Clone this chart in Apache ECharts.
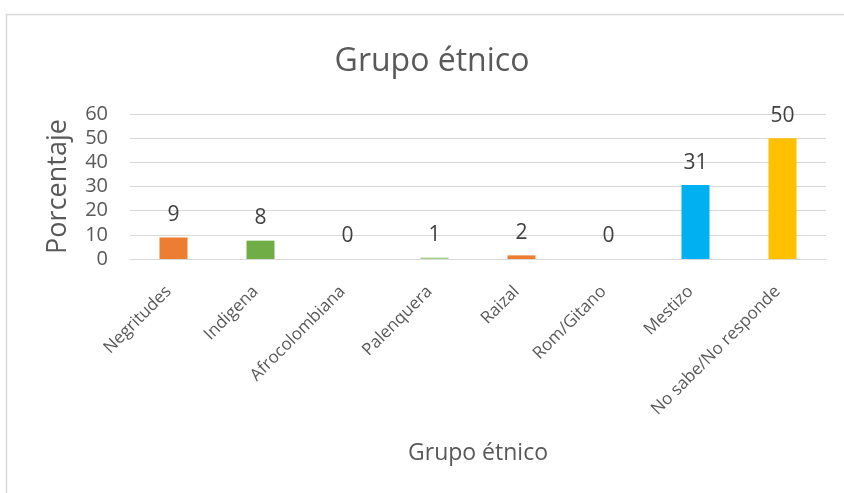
<!DOCTYPE html>
<html>
<head>
<meta charset="utf-8">
<script src="https://cdn.jsdelivr.net/npm/echarts@6/dist/echarts.min.js"></script>
<style>
  html, body { margin: 0; padding: 0; background: #fff; }
  #main { width: 844px; height: 493px; }
</style>
</head>
<body>
<div id="main"></div>
<script>
// categorias y porcentajes
const categorias = ['Negritudes', 'Indigena', 'Afrocolombiana', 'Palenquera', 'Raizal', 'Rom/Gitano', 'Mestizo', 'No sabe/No responde'];
const porcentajes = [8.9, 7.6, 0, 0.6, 1.5, 0, 30.6, 50];
const colores = ['#ED7D31', '#70AD47', '#5B9BD5', '#A9D18E', '#ED7D31', '#A5A5A5', '#00B0F0', '#FFC000'];
const ticksY = [0, 10, 20, 30, 40, 50, 60];

const fuente = '"Open Sans", sans-serif';
const gris = '#595959';

var myChart = echarts.init(document.getElementById('main'));

var option = {
  animation: false,
  textStyle: { fontFamily: fuente },
  graphic: [
    // marco del area del grafico (solo arriba e izquierda visibles)
    { type: 'line', shape: { x1: 6, y1: 14.5, x2: 844, y2: 14.5 }, style: { stroke: '#d9d9d9', lineWidth: 1.5 } },
    { type: 'line', shape: { x1: 6.5, y1: 14, x2: 6.5, y2: 493 }, style: { stroke: '#d9d9d9', lineWidth: 1.5 } }
  ],
  title: {
    text: 'Grupo étnico',
    left: 427,
    top: 41,
    textAlign: 'center',
    textStyle: { fontFamily: fuente, fontSize: 32, fontWeight: 'normal', color: gris }
  },
  grid: { left: 130, right: 18, top: 114, bottom: 234 },
  xAxis: {
    type: 'category',
    data: categorias,
    name: 'Grupo étnico',
    nameLocation: 'middle',
    nameGap: 183,
    nameTextStyle: { fontFamily: fuente, fontSize: 23, color: gris },
    axisLine: { lineStyle: { color: '#d9d9d9', width: 1 } },
    axisTick: { show: false },
    axisLabel: { rotate: 45, fontFamily: fuente, fontSize: 17, color: gris, margin: 25, padding: [0, 7, 0, 0], interval: 0 }
  },
  yAxis: {
    type: 'value',
    min: ticksY[0],
    max: ticksY[ticksY.length - 1],
    interval: 10,
    name: 'Porcentaje',
    nameLocation: 'middle',
    nameGap: 58,
    nameRotate: 90,
    nameTextStyle: { fontFamily: fuente, fontSize: 27, color: gris },
    axisLine: { show: false },
    axisTick: { show: false },
    axisLabel: { fontFamily: fuente, fontSize: 20, color: gris, margin: 22 },
    splitLine: { lineStyle: { color: '#d9d9d9', width: 1 } }
  },
  series: [
    {
      type: 'bar',
      barWidth: 28,
      data: porcentajes.map((v, i) => ({ value: v, itemStyle: { color: colores[i] } })),
      label: {
        show: true,
        position: 'top',
        distance: 12,
        fontFamily: fuente,
        fontSize: 21,
        color: '#404040',
        formatter: p => Math.round(p.value)
      }
    }
  ]
};

myChart.setOption(option);
</script>
</body>
</html>
